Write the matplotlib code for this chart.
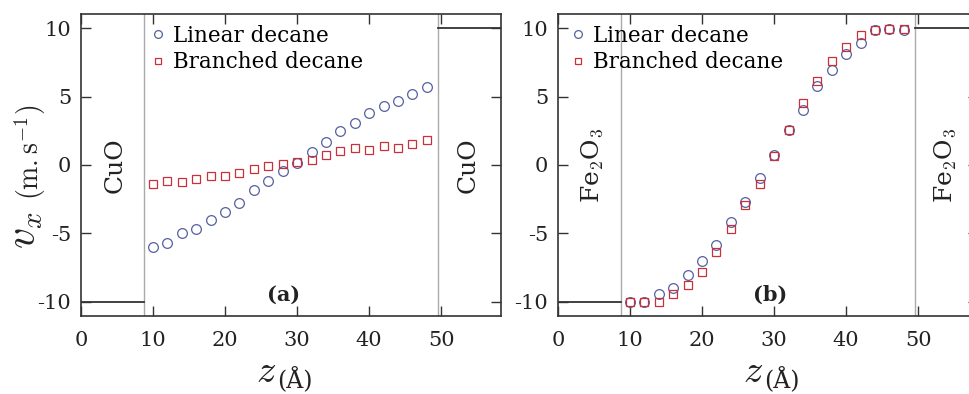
import matplotlib
matplotlib.use("Agg")
import matplotlib.pyplot as plt

plt.rcParams["font.family"] = ["DejaVu Serif"]
plt.rcParams["mathtext.fontset"] = "cm"
plt.rcParams["axes.unicode_minus"] = False

# --- datos ---
z = [10, 12, 14, 16, 18, 20, 22, 24, 26, 28, 30, 32, 34, 36, 38, 40, 42, 44, 46, 48]

# (a) CuO
lineal_a = [-5.97, -5.68, -4.94, -4.69, -4.0, -3.46, -2.75, -1.82, -1.2, -0.44,
            0.15, 0.96, 1.7, 2.46, 3.1, 3.78, 4.35, 4.67, 5.2, 5.7]
ramif_a = [-1.4, -1.2, -1.23, -1.06, -0.81, -0.81, -0.61, -0.32, -0.07, 0.1,
           0.22, 0.34, 0.71, 1.0, 1.25, 1.08, 1.42, 1.28, 1.52, 1.82]

# (b) Fe2O3
lineal_b = [-10.0, -10.0, -9.46, -8.97, -8.07, -7.02, -5.85, -4.15, -2.7, -0.98,
            0.7, 2.54, 4.0, 5.78, 6.93, 8.1, 8.95, 9.85, 9.93, 9.88]
ramif_b = [-10.05, -10.05, -10.0, -9.46, -8.78, -7.83, -6.34, -4.68, -2.95, -1.37,
           0.66, 2.54, 4.56, 6.15, 7.61, 8.63, 9.49, 9.85, 9.93, 9.93]

paredes = [8.8, 49.6]
v_pared = [-10, 10]
xticks = [0, 10, 20, 30, 40, 50]
yticks = [-10, -5, 0, 5, 10]

col_lin = "#5560a0"
col_ram = "#c8303c"
gris = "#333333"
texto = "#222222"

W, H = 969, 394
fig = plt.figure(figsize=(W / 100, H / 100), dpi=100)

def caja(x0, x1, y0, y1):
    return [x0 / W, 1 - y1 / H, (x1 - x0) / W, (y1 - y0) / H]

paneles = [
    (caja(81, 501, 14, 316), lineal_a, ramif_a, "CuO", "(a)", 28.1, 0.165),
    (caja(558, 978, 14, 316), lineal_b, ramif_b, r"Fe$_2$O$_3$", "(b)", 29.5, 0.03),
]

for pos, lin, ram, sup, etiqueta, x_etq, x_leg in paneles:
    ax = fig.add_axes(pos)
    ax.set_xlim(0, 58.3)
    ax.set_ylim(-11.05, 11.05)

    # paredes
    for xp in paredes:
        ax.axvline(xp, color="#aaaaaa", lw=1.0, zorder=1)
    ax.plot([0, paredes[0]], [v_pared[0]] * 2, color=gris, lw=1.3, zorder=1)
    ax.plot([paredes[1], 58.3], [v_pared[1]] * 2, color=gris, lw=1.3, zorder=1)

    ax.plot(z, lin, "o", ms=7.0, mfc="none", mec=col_lin, mew=0.9,
            label="Linear decane", zorder=3)
    ax.plot(z, ram, "s", ms=5.8, mfc="none", mec=col_ram, mew=0.9,
            label="Branched decane", zorder=3)

    ax.text(4.7, 0, sup, rotation=90, ha="center", va="center",
            fontsize=18, color=texto)
    ax.text(53.7, 0, sup, rotation=90, ha="center", va="center",
            fontsize=18, color=texto)
    ax.text(x_etq, -9.5, etiqueta, ha="center", va="center",
            fontsize=15, fontweight="bold", color=texto)

    ax.set_xticks(xticks)
    ax.set_yticks(yticks)
    ax.tick_params(direction="in", length=7, width=1.0, color=gris,
                   top=True, right=True, labelsize=15, labelcolor=texto)
    ax.tick_params(axis="x", pad=11)
    ax.tick_params(axis="y", pad=7)
    for s in ax.spines.values():
        s.set_color(gris)
        s.set_linewidth(1.2)

    ax.legend(loc="upper left", bbox_to_anchor=(x_leg, 0.965), frameon=False,
              fontsize=15.5, handlelength=0.7, handletextpad=0.35,
              labelspacing=0.22, borderaxespad=0, borderpad=0, markerscale=0.8)

# etiqueta del eje y
fig.text(24 / W, 1 - 230 / H, r"$v_x$", rotation=90, ha="center", va="center",
         fontsize=30, color=texto)
fig.text(30 / W, 1 - 152 / H, r"$(\mathrm{m.s}^{-1})$", rotation=90,
         ha="center", va="center", fontsize=20, color=texto)

# etiquetas del eje x
for xz, xa in [(266, 295), (753, 782)]:
    fig.text(xz / W, 1 - 372 / H, r"$z$", ha="center", va="center",
             fontsize=28, color=texto)
    fig.text(xa / W, 1 - 380 / H, "(Å)", ha="center", va="center",
             fontsize=17, color=texto)

fig.savefig("out.png", dpi=100)
